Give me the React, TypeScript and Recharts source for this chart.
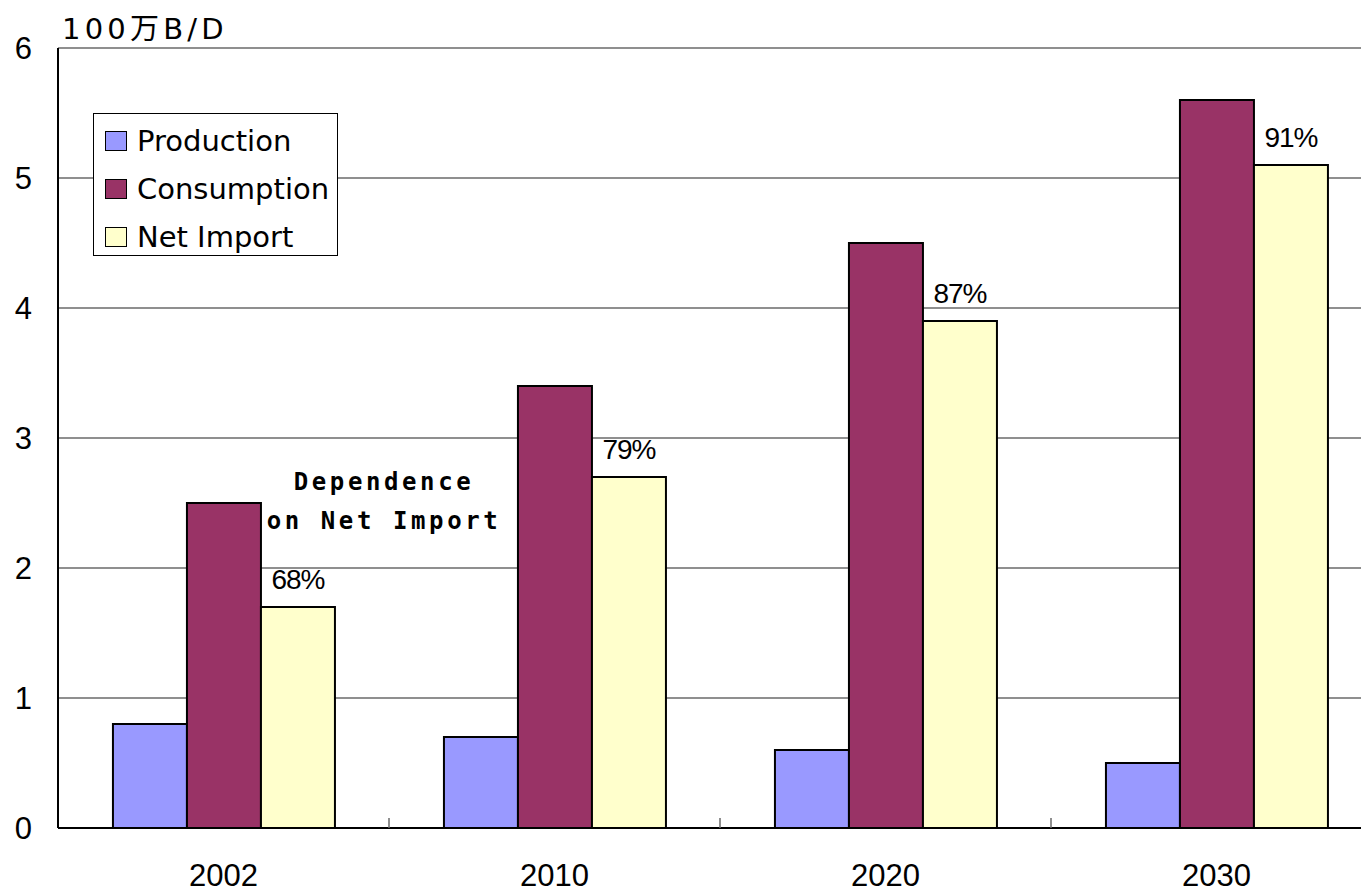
import React from "react";
import { BarChart, Bar, XAxis, YAxis, CartesianGrid, Legend, LabelList } from "recharts";

const years = ["2002", "2010", "2020", "2030"];
const production = [0.8, 0.7, 0.6, 0.5];
const consumption = [2.5, 3.4, 4.5, 5.6];
const netImport = [1.7, 2.7, 3.9, 5.1];
const dependence = [68, 79, 87, 91];
const yTicks = [0, 1, 2, 3, 4, 5, 6];
const seriesNames = ["Production", "Consumption", "Net Import"];

const rows = years.map((year, i) => ({
  year,
  production: production[i],
  consumption: consumption[i],
  netImport: netImport[i],
  dependence: dependence[i],
}));

const numFont = '"Liberation Sans", "Noto Sans CJK JP", sans-serif';
const LABEL_GAP = 36;

function LegendBox({ payload }: { payload?: any[] }) {
  const items = [...(payload ?? [])].sort(
    (a, b) => seriesNames.indexOf(a.value) - seriesNames.indexOf(b.value)
  );
  return (
    <div style={{ fontFamily: '"DejaVu Sans", sans-serif', fontSize: 29, color: "#000" }}>
      {items.map((item) => (
        <div key={item.value} style={{ display: "flex", alignItems: "center", height: 48 }}>
          <span
            style={{
              display: "inline-block",
              width: 20,
              height: 18,
              background: item.color,
              border: "1.5px solid #000",
            }}
          />
          <span style={{ marginLeft: 10 }}>{item.value}</span>
        </div>
      ))}
    </div>
  );
}

// year label plus a short mark on the boundary to the next category
function YearTick(props: any) {
  const { x, y, payload, index, visibleTicksCount } = props;
  const half = payload?.offset ?? 0;
  const axisY = y - LABEL_GAP;
  return (
    <g>
      <text
        x={x}
        y={y}
        dy="0.71em"
        textAnchor="middle"
        fill="#000"
        fontSize={31}
        fontFamily={numFont}
      >
        {payload.value}
      </text>
      {index < visibleTicksCount - 1 && half > 0 && (
        <line
          x1={x + half}
          x2={x + half}
          y1={axisY}
          y2={axisY - 10}
          stroke="#6a6a6a"
          strokeWidth={1.5}
        />
      )}
    </g>
  );
}

export default function App() {
  return (
    <div
      style={{
        position: "absolute",
        left: 0,
        top: 0,
        width: 1361,
        height: 893,
        overflow: "hidden",
        background: "#fff",
      }}
    >
      <div
        style={{
          position: "absolute",
          left: 62,
          top: 5,
          fontFamily: '"DejaVu Sans", "Noto Sans CJK JP", sans-serif',
          fontSize: 29,
          letterSpacing: 4.2,
          color: "#000",
        }}
      >
        100万B/D
      </div>
      <BarChart
        width={1382}
        height={893}
        data={rows}
        margin={{ top: 48, right: 0, bottom: 0, left: 0 }}
        barCategoryGap="16.6%"
        barGap={0}
      >
        <CartesianGrid vertical={false} stroke="#6a6a6a" strokeWidth={1.5} />
        <XAxis
          dataKey="year"
          height={65}
          axisLine={{ stroke: "#000", strokeWidth: 2 }}
          tickLine={false}
          tickSize={0}
          tickMargin={LABEL_GAP}
          tick={<YearTick />}
        />
        <YAxis
          width={58}
          domain={[0, 6]}
          ticks={yTicks}
          interval={0}
          axisLine={{ stroke: "#000", strokeWidth: 2 }}
          tickLine={false}
          tickSize={0}
          tickMargin={26}
          tick={{ fill: "#000", fontSize: 31, fontFamily: numFont }}
        />
        <Legend
          layout="vertical"
          align="center"
          verticalAlign="middle"
          content={<LegendBox />}
          wrapperStyle={{
            position: "absolute",
            left: 93,
            top: 113,
            width: 245,
            height: 143,
            border: "1.5px solid #000",
            background: "#fff",
            boxSizing: "border-box",
            padding: "3px 0 0 11px",
          }}
        />
        <Bar
          dataKey="production"
          name="Production"
          fill="#9999FF"
          stroke="#000"
          strokeWidth={2}
          isAnimationActive={false}
        />
        <Bar
          dataKey="consumption"
          name="Consumption"
          fill="#993366"
          stroke="#000"
          strokeWidth={2}
          isAnimationActive={false}
        />
        <Bar
          dataKey="netImport"
          name="Net Import"
          fill="#FFFFCC"
          stroke="#000"
          strokeWidth={2}
          isAnimationActive={false}
        >
          <LabelList
            dataKey="dependence"
            position="top"
            offset={18}
            formatter={(v: any) => `${v}%`}
            style={{ fill: "#000", fontSize: 28, fontFamily: numFont, letterSpacing: -1 }}
          />
        </Bar>
      </BarChart>
      <div
        style={{
          position: "absolute",
          left: 234,
          top: 463,
          width: 300,
          textAlign: "center",
          whiteSpace: "nowrap",
          fontFamily: '"DejaVu Sans Mono", monospace',
          fontWeight: "bold",
          fontSize: 24,
          lineHeight: "39px",
          letterSpacing: 3.6,
          color: "#000",
        }}
      >
        Dependence
        <br />
        on Net Import
      </div>
    </div>
  );
}
